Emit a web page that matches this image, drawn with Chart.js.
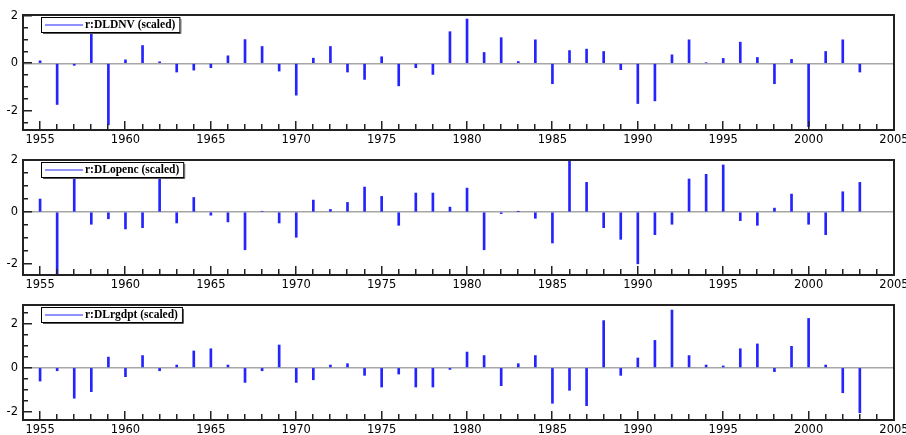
<!DOCTYPE html>
<html>
<head>
<meta charset="utf-8">
<script src="https://cdn.jsdelivr.net/npm/chart.js@4.4.1/dist/chart.umd.min.js"></script>
<style>
  html, body { margin: 0; padding: 0; background: #fff; }
  .panneau { width: 906px; height: 145px; }
  canvas { display: block; }
</style>
</head>
<body>
<div class="panneau"><canvas id="residus-dldnv" width="906" height="145"></canvas></div>
<div class="panneau"><canvas id="residus-dlopenc" width="906" height="145"></canvas></div>
<div class="panneau"><canvas id="residus-dlrgdpt" width="906" height="145"></canvas></div>
<script>
const ANNEES = [
  1955, 1956, 1957, 1958, 1959, 1960, 1961, 1962, 1963, 1964,
  1965, 1966, 1967, 1968, 1969, 1970, 1971, 1972, 1973, 1974,
  1975, 1976, 1977, 1978, 1979, 1980, 1981, 1982, 1983, 1984,
  1985, 1986, 1987, 1988, 1989, 1990, 1991, 1992, 1993, 1994,
  1995, 1996, 1997, 1998, 1999, 2000, 2001, 2002, 2003,
];

const RESIDUS_DLDNV = [
  0.11, -1.72, -0.08, 1.6, -2.57, 0.15, 0.75, 0.07, -0.36, -0.28,
  -0.18, 0.32, 1.0, 0.71, -0.32, -1.33, 0.22, 0.71, -0.36, -0.67,
  0.28, -0.94, -0.18, -0.46, 1.33, 1.86, 0.46, 1.08, 0.08, 0.99,
  -0.85, 0.54, 0.6, 0.5, -0.26, -1.68, -1.57, 0.36, 0.99, 0.03,
  0.21, 0.89, 0.25, -0.85, 0.17, -2.65, 0.5, 0.99, -0.36,
];

const RESIDUS_DLOPENC = [
  0.5, -2.45, 1.45, -0.47, -0.26, -0.65, -0.6, 1.55, -0.42, 0.56,
  -0.12, -0.38, -1.45, 0.03, -0.42, -0.97, 0.46, 0.1, 0.37, 0.96,
  0.6, -0.51, 0.73, 0.73, 0.19, 0.92, -1.45, -0.06, 0.02, -0.24,
  -1.19, 2.05, 1.14, -0.6, -1.05, -1.99, -0.87, -0.47, 1.27, 1.45,
  1.81, -0.33, -0.51, 0.15, 0.69, -0.47, -0.87, 0.78, 1.14,
];

const RESIDUS_DLRGDPT = [
  -0.61, -0.14, -1.39, -1.09, 0.48, -0.41, 0.55, -0.14, 0.12, 0.76,
  0.86, 0.12, -0.67, -0.14, 1.03, -0.67, -0.55, 0.12, 0.18, -0.35,
  -0.88, -0.29, -0.88, -0.88, -0.08, 0.71, 0.55, -0.82, 0.18, 0.55,
  -1.62, -1.03, -1.73, 2.14, -0.35, 0.44, 1.24, 2.62, 0.55, 0.12,
  0.08, 0.86, 1.08, -0.18, 0.97, 2.24, 0.12, -1.14, -2.05,
];

const LIBELLES = ['r:DLDNV (scaled)', 'r:DLopenc (scaled)', 'r:DLrgdpt (scaled)'];
const GRADUATIONS_X = [1955, 1960, 1965, 1970, 1975, 1980, 1985, 1990, 1995, 2000, 2005];
const GRADUATIONS_Y = [-2, 0, 2];

const PALETTE = {
  BLEU: '#2424ff',
  CADRE: '#222',
  ZERO: '#a6a6a6',
  TEXTE: '#000',
};

const POLICE_AXES = { family: '"DejaVu Sans", Verdana, sans-serif', size: 11.5 };

// cadre, graduations tournees vers l'interieur et legende dans la zone de trace
const habillage = {
  id: 'habillage',
  afterDraw(chart) {
    const { ctx, chartArea: zone } = chart;
    const x = chart.scales.x;
    const y = chart.scales.y;
    ctx.save();
    ctx.strokeStyle = PALETTE.CADRE;
    ctx.lineWidth = 2;
    ctx.strokeRect(zone.left, zone.top, zone.right - zone.left, zone.bottom - zone.top);

    ctx.fillStyle = PALETTE.CADRE;
    for (let annee = Math.ceil(x.min); annee <= x.max; annee += 1) {
      const px = Math.round(x.getPixelForValue(annee));
      const longueur = annee % 5 === 0 ? 9 : 6;
      ctx.fillRect(px - 1, zone.bottom - longueur, 1.5, longueur);
    }
    for (let v = Math.ceil(y.min * 2) / 2; v <= y.max; v += 0.5) {
      const py = Math.round(y.getPixelForValue(v));
      const longueur = Math.abs(v % 2) < 1e-6 ? 9 : 5;
      ctx.fillRect(zone.left, py - 1, longueur, 1.5);
    }

    const libelle = chart.data.datasets[0].label;
    ctx.font = 'bold 11.5px "Liberation Serif", serif';
    const largeurTexte = ctx.measureText(libelle).width;
    const gauche = zone.left + 18;
    const haut = zone.top + 2;
    const largeur = largeurTexte + 48;
    const hauteur = 15;
    ctx.fillStyle = '#fff';
    ctx.fillRect(gauche, haut, largeur, hauteur);
    ctx.lineWidth = 1;
    ctx.strokeStyle = '#000';
    ctx.strokeRect(gauche + 0.5, haut + 0.5, largeur, hauteur);
    ctx.beginPath();
    ctx.moveTo(gauche + 2, haut + hauteur + 1.5);
    ctx.lineTo(gauche + largeur + 1.5, haut + hauteur + 1.5);
    ctx.lineTo(gauche + largeur + 1.5, haut + 2);
    ctx.strokeStyle = '#555';
    ctx.stroke();
    ctx.strokeStyle = PALETTE.BLEU;
    ctx.lineWidth = 1.2;
    ctx.beginPath();
    ctx.moveTo(gauche + 4, haut + 8);
    ctx.lineTo(gauche + 42, haut + 8);
    ctx.stroke();
    ctx.fillStyle = '#000';
    ctx.textBaseline = 'middle';
    ctx.fillText(libelle, gauche + 44, haut + 8.5);
    ctx.restore();
  },
};

const dessineResidus = (idCanevas, valeurs, libelle, minY, maxY) => {
  /* eslint-disable no-new */
  new Chart(document.getElementById(idCanevas), {
    type: 'bar',
    plugins: [habillage],
    data: {
      datasets: [{
        label: libelle,
        data: ANNEES.map((annee, i) => ({ x: annee, y: valeurs[i] })),
        backgroundColor: PALETTE.BLEU,
        barThickness: 2,
      }],
    },
    options: {
      animation: false,
      responsive: false,
      devicePixelRatio: 1,
      events: [],
      layout: { padding: { top: 15, right: 12, left: 0, bottom: 0 } },
      plugins: { legend: { display: false }, tooltip: { enabled: false } },
      scales: {
        x: {
          type: 'linear',
          offset: false,
          min: 1954,
          max: 2005,
          afterBuildTicks: (echelle) => { echelle.ticks = GRADUATIONS_X.map((v) => ({ value: v })); },
          afterFit: (echelle) => {
            echelle.height = 15;
            echelle.paddingLeft = 0;
            echelle.paddingRight = 0;
          },
          grid: { display: false, drawTicks: false, offset: false },
          border: { display: false },
          ticks: {
            autoSkip: false,
            maxRotation: 0,
            padding: 3,
            color: PALETTE.TEXTE,
            font: POLICE_AXES,
            callback: (v) => String(v),
          },
        },
        y: {
          min: minY,
          max: maxY,
          afterBuildTicks: (echelle) => { echelle.ticks = GRADUATIONS_Y.map((v) => ({ value: v })); },
          afterFit: (echelle) => { echelle.width = 23; },
          grid: {
            drawTicks: false,
            lineWidth: 1.5,
            color: (c) => (c.tick && c.tick.value === 0 ? PALETTE.ZERO : 'transparent'),
          },
          border: { display: false },
          ticks: {
            padding: 5,
            color: PALETTE.TEXTE,
            font: POLICE_AXES,
            callback: (v) => String(v),
          },
        },
      },
    },
  });
  /* eslint-enable no-new */
};

dessineResidus('residus-dldnv', RESIDUS_DLDNV, LIBELLES[0], -2.79, 2.03);
dessineResidus('residus-dlopenc', RESIDUS_DLOPENC, LIBELLES[1], -2.42, 2.0);
dessineResidus('residus-dlrgdpt', RESIDUS_DLRGDPT, LIBELLES[2], -2.38, 2.85);
</script>
</body>
</html>
